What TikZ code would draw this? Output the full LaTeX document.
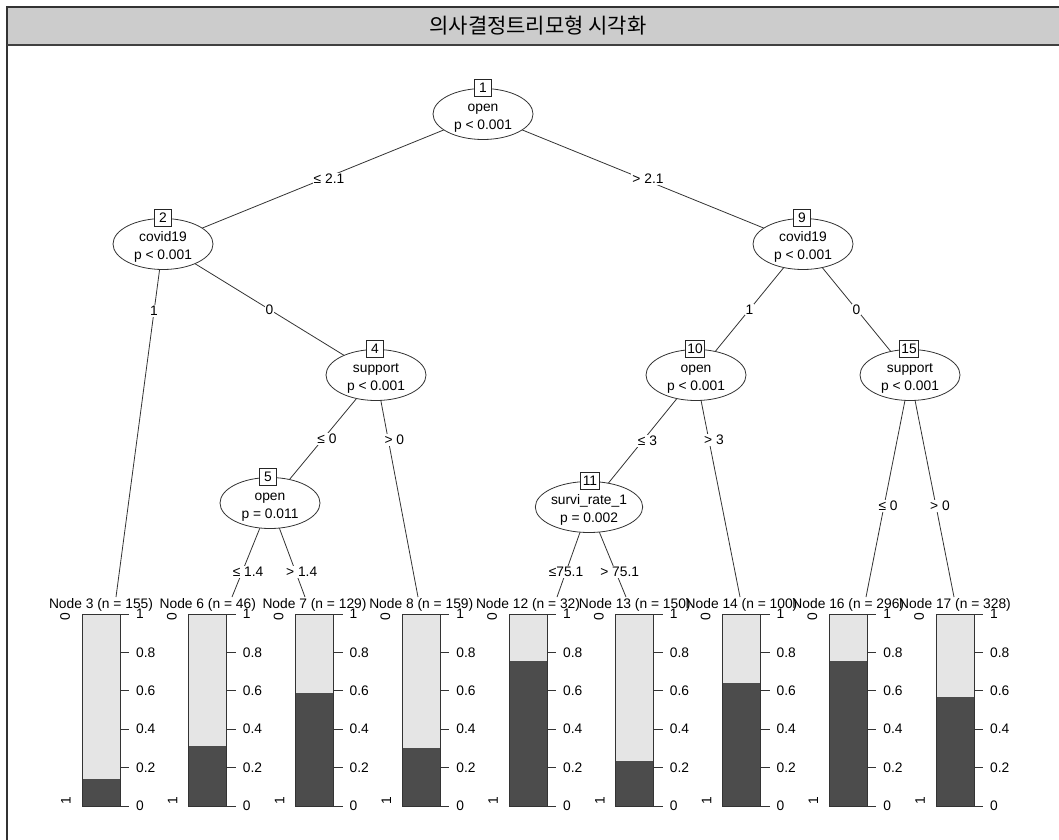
\documentclass[tikz,border=0pt]{standalone}
\usepackage{fontspec}
\setmainfont{Liberation Sans}
\newfontfamily\krfont{Noto Sans CJK KR}
\usetikzlibrary{shapes.geometric,backgrounds}
\definecolor{barlight}{gray}{0.9}
\definecolor{bardark}{gray}{0.3}
\definecolor{titlegray}{gray}{0.8}
\tikzset{
  split/.style={ellipse, draw=black!80, fill=white, line width=0.8pt, minimum width=100pt, minimum height=51pt, inner sep=0pt, align=center, text height=33pt, text depth=3pt, font=\fontsize{13.8}{18}\selectfont},
  idbox/.style={draw=black!85, fill=white, line width=0.8pt, minimum width=17pt, minimum height=17pt, inner sep=2pt, font=\fontsize{13.8}{16}\selectfont},
  edge/.style={draw=black!80, line width=0.8pt},
  elabel/.style={fill=white, inner sep=1pt, font=\fontsize{13.8}{16}\selectfont},
  tlabel/.style={inner sep=0pt, font=\fontsize{13.8}{16}\selectfont},
  barframe/.style={draw=black!80, line width=0.8pt}
}
\begin{document}
\begin{tikzpicture}[x=1pt, y=-1pt]
  \useasboundingbox (0,0) rectangle (1059,839);

  % title bar
  \fill[titlegray] (7,7) rectangle (1060,45);
  \draw[line width=1.6pt, black!80] (1060,7) -- (7,7) -- (7,840);
  \draw[line width=1.6pt, black!75] (7,45) -- (1060,45);
  \node[font=\krfont\fontsize{21}{24}\selectfont] (title) at (538,26) {의사결정트리모형 시각화};

  % inner nodes
  \node[split] (n1) at (483,114) {open\\p < 0.001};
  \node[idbox] (b1) at (483,88) {1};
  \node[split] (n2) at (163,244) {covid19\\p < 0.001};
  \node[idbox] (b2) at (163,218) {2};
  \node[split] (n9) at (803,244) {covid19\\p < 0.001};
  \node[idbox] (b9) at (802,218) {9};
  \node[split] (n4) at (376,375) {support\\p < 0.001};
  \node[idbox] (b4) at (375,349) {4};
  \node[split] (n10) at (696,375) {open\\p < 0.001};
  \node[idbox] (b10) at (695,349) {10};
  \node[split] (n15) at (910,375) {support\\p < 0.001};
  \node[idbox] (b15) at (909,349) {15};
  \node[split] (n5) at (270,503) {open\\p = 0.011};
  \node[idbox] (b5) at (268,477) {5};
  \node[split] (n11) at (589,507) {survi\_rate\_1\\p = 0.002};
  \node[idbox] (b11) at (590,481) {11};

  % ends of the edges to the terminal nodes
  \coordinate (e3) at (116,597);
  \coordinate (e6) at (232,597);
  \coordinate (e7) at (305,597);
  \coordinate (e8) at (418,597);
  \coordinate (e12) at (557,597);
  \coordinate (e13) at (626,597);
  \coordinate (e14) at (740,597);
  \coordinate (e16) at (866,597);
  \coordinate (e17) at (954,597);

  % edges
  \begin{scope}[on background layer]
    \draw[edge] (n1.center) -- node[elabel, pos=0.5, xshift=6pt] {≤ 2.1} (n2.center);
    \draw[edge] (n1.center) -- node[elabel, pos=0.5, xshift=5pt] {> 2.1} (n9.center);
    \draw[edge] (n2.center) -- node[elabel, pos=0.19] {1} (e3);
    \draw[edge] (n2.center) -- node[elabel, pos=0.5] {0} (n4.center);
    \draw[edge] (n9.center) -- node[elabel, pos=0.5] {1} (n10.center);
    \draw[edge] (n9.center) -- node[elabel, pos=0.5] {0} (n15.center);
    \draw[edge] (n4.center) -- node[elabel, pos=0.5, xshift=4pt] {≤ 0} (n5.center);
    \draw[edge] (n4.center) -- node[elabel, pos=0.293, xshift=6pt] {> 0} (e8);
    \draw[edge] (n10.center) -- node[elabel, pos=0.5, xshift=5pt] {≤ 3} (n11.center);
    \draw[edge] (n10.center) -- node[elabel, pos=0.293, xshift=5pt] {> 3} (e14);
    \draw[edge] (n15.center) -- node[elabel, pos=0.59, xshift=4pt] {≤ 0} (e16);
    \draw[edge] (n15.center) -- node[elabel, pos=0.59, xshift=4pt] {> 0} (e17);
    \draw[edge] (n5.center) -- node[elabel, pos=0.734, xshift=6pt] {≤ 1.4} (e6);
    \draw[edge] (n5.center) -- node[elabel, pos=0.734, xshift=6pt] {> 1.4} (e7);
    \draw[edge] (n11.center) -- node[elabel, pos=0.72] {≤75.1} (e12);
    \draw[edge] (n11.center) -- node[elabel, pos=0.72, xshift=4pt] {> 75.1} (e13);
  \end{scope}

  % terminal nodes: bar of class shares
  \foreach \k/\n/\xl/\fr in {3/155/82/0.14, 6/46/188.75/0.31, 7/129/295.5/0.59, 8/159/402.25/0.30, 12/32/509/0.755, 13/150/615.75/0.234, 14/100/722.5/0.64, 16/296/829.25/0.755, 17/328/936/0.57} {
    \node[tlabel] (lab\k) at (\xl+19,605) {Node \k\ (n = \n)};
    \fill[barlight] (\xl,614) rectangle (\xl+38,806);
    \fill[bardark] (\xl,806) rectangle (\xl+38,806-192*\fr);
    \draw[barframe] (\xl,614) rectangle (\xl+38,806);
    \node[tlabel, rotate=90] (top\k) at (\xl-17,617) {0};
    \node[tlabel, rotate=90] (bot\k) at (\xl-16,801) {1};
    \foreach \v in {0,0.2,0.4,0.6,0.8,1} {
      \draw[barframe] (\xl+38,806-192*\v) -- (\xl+47,806-192*\v);
      \node[tlabel, anchor=west] at (\xl+54,806-192*\v) {\v};
    }
  }
\end{tikzpicture}
\end{document}
